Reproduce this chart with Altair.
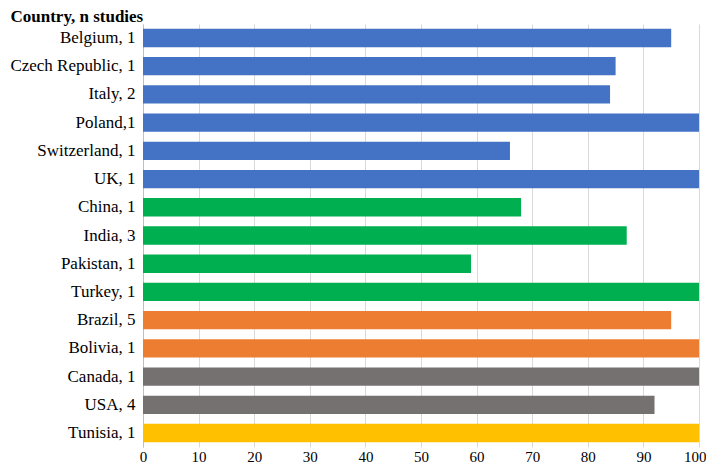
import altair as alt
import pandas as pd

countries = ["Belgium, 1", "Czech Republic, 1", "Italy, 2", "Poland,1", "Switzerland, 1", "UK, 1",
             "China, 1", "India, 3", "Pakistan, 1", "Turkey, 1",
             "Brazil, 5", "Bolivia, 1",
             "Canada, 1", "USA, 4",
             "Tunisia, 1"]
values = [95, 85, 84, 100, 66, 100,
          68, 87, 59, 100,
          95, 100,
          100, 92,
          100]
regions = ["Europe"] * 6 + ["Asia"] * 4 + ["South America"] * 2 + ["North America"] * 2 + ["Africa"]

region_names = ["Europe", "Asia", "South America", "North America", "Africa"]
region_colors = ["#4472C4", "#00B050", "#ED7D31", "#767171", "#FFC000"]

df = pd.DataFrame({"country": countries, "value": values, "region": regions})

FONT = "Liberation Serif"

chart = alt.Chart(df).mark_bar().encode(
    y=alt.Y("country:N", sort=None,
            scale=alt.Scale(paddingInner=0.35, paddingOuter=0.17),
            axis=alt.Axis(title="Country, n studies", titleAngle=0, titleAlign="left",
                          titleBaseline="alphabetic", titleX=-133, titleY=-3,
                          titleFont=FONT, titleFontSize=17, titleFontWeight="bold",
                          titleColor="black",
                          labelFont=FONT, labelFontSize=17, labelColor="black",
                          labelPadding=8, ticks=False, domainColor="#bfbfbf",
                          grid=False, labelLimit=300)),
    x=alt.X("value:Q", scale=alt.Scale(domain=[0, 100], nice=False),
            axis=alt.Axis(title=None, values=list(range(0, 101, 10)), labelFont=FONT,
                          labelFontSize=15, labelColor="black", labelPadding=2,
                          labelAlign={"expr": "datum.value == 100 ? 'right' : 'center'"},
                          labelOffset={"expr": "datum.value == 100 ? 7 : 0"},
                          ticks=False, domain=False, grid=True, gridColor="#d9d9d9",
                          labelFlush=False)),
    color=alt.Color("region:N", scale=alt.Scale(domain=region_names, range=region_colors),
                    legend=None),
).properties(
    width=556, height=423,
    autosize=alt.AutoSizeParams(type="none"),
    padding={"left": 135, "top": 16, "right": 7, "bottom": 19},
).configure_view(stroke=None)

chart.save("out.html", embed_options={"renderer": "svg", "actions": False})
